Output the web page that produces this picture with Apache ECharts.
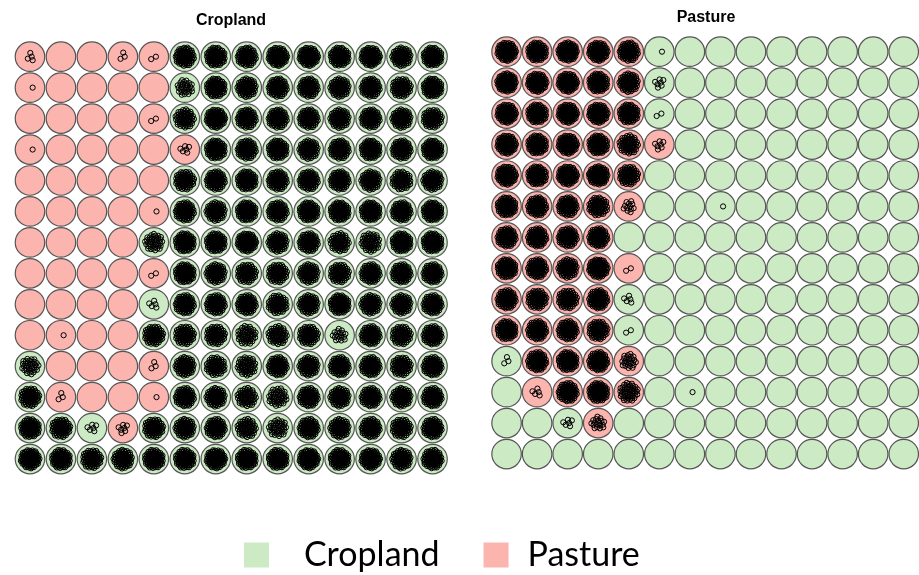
<!DOCTYPE html>
<html>
<head>
<meta charset="utf-8">
<script src="https://cdn.jsdelivr.net/npm/echarts@6/dist/echarts.min.js"></script>
<style>
  html, body { margin: 0; padding: 0; background: #fff; }
  #chart { width: 919px; height: 575px; }
</style>
</head>
<body>
<div id="chart"></div>
<script>
// Land-use classes of the 14 x 14 SOM nodes (row 0 = top row). C = Cropland, P = Pasture
const classNames = { C: 'Cropland', P: 'Pasture' };
const classColors = { C: '#CCEBC5', P: '#FBB4AE' };
const nodeClass = [
  'PPPPPCCCCCCCCC',
  'PPPPPCCCCCCCCC',
  'PPPPPCCCCCCCCC',
  'PPPPPPCCCCCCCC',
  'PPPPPCCCCCCCCC',
  'PPPPPCCCCCCCCC',
  'PPPPCCCCCCCCCC',
  'PPPPPCCCCCCCCC',
  'PPPPCCCCCCCCCC',
  'PPPPCCCCCCCCCC',
  'CPPPPCCCCCCCCC',
  'CPPPPCCCCCCCCC',
  'CCCPCCCCCCCCCC',
  'CCCCCCCCCCCCCC'
];

// Number of cropland samples mapped to each node
const cropCounts = [
  [4, 0, 0, 3, 2, 80, 85, 80, 90, 90, 85, 90, 75, 85],
  [1, 0, 0, 0, 0, 30, 85, 75, 80, 80, 75, 80, 70, 85],
  [0, 0, 0, 0, 2, 60, 90, 80, 80, 80, 75, 80, 75, 70],
  [1, 0, 0, 0, 0, 6, 85, 80, 85, 75, 80, 85, 80, 85],
  [0, 0, 0, 0, 0, 70, 80, 85, 80, 80, 80, 75, 65, 75],
  [0, 0, 0, 0, 1, 80, 75, 85, 80, 85, 85, 85, 80, 85],
  [0, 0, 0, 0, 40, 85, 85, 90, 75, 80, 60, 55, 85, 85],
  [0, 0, 0, 0, 2, 85, 75, 70, 70, 75, 70, 80, 80, 80],
  [0, 0, 0, 0, 5, 80, 80, 80, 65, 75, 85, 75, 75, 80],
  [0, 1, 0, 0, 70, 70, 70, 50, 60, 70, 18, 80, 70, 80],
  [35, 0, 0, 0, 3, 75, 65, 55, 80, 75, 80, 80, 70, 80],
  [70, 3, 0, 0, 1, 80, 75, 60, 45, 80, 75, 80, 75, 80],
  [85, 70, 6, 7, 70, 75, 80, 60, 40, 80, 75, 80, 70, 80],
  [90, 85, 70, 75, 85, 85, 90, 85, 85, 90, 85, 90, 75, 80]
];

// Number of pasture samples mapped to each node
const pastureCounts = [
  [90, 85, 95, 90, 80, 1, 0, 0, 0, 0, 0, 0, 0, 0],
  [95, 90, 90, 85, 75, 7, 0, 0, 0, 0, 0, 0, 0, 0],
  [90, 85, 90, 90, 85, 2, 0, 0, 0, 0, 0, 0, 0, 0],
  [90, 85, 90, 85, 60, 7, 0, 0, 0, 0, 0, 0, 0, 0],
  [90, 85, 90, 95, 70, 0, 0, 0, 0, 0, 0, 0, 0, 0],
  [85, 80, 80, 65, 12, 0, 0, 1, 0, 0, 0, 0, 0, 0],
  [80, 80, 80, 80, 0, 0, 0, 0, 0, 0, 0, 0, 0, 0],
  [85, 80, 75, 90, 2, 0, 0, 0, 0, 0, 0, 0, 0, 0],
  [80, 70, 70, 80, 5, 0, 0, 0, 0, 0, 0, 0, 0, 0],
  [85, 80, 80, 70, 2, 0, 0, 0, 0, 0, 0, 0, 0, 0],
  [3, 80, 85, 80, 25, 0, 0, 0, 0, 0, 0, 0, 0, 0],
  [0, 5, 80, 85, 50, 0, 1, 0, 0, 0, 0, 0, 0, 0],
  [0, 0, 6, 18, 0, 0, 0, 0, 0, 0, 0, 0, 0, 0],
  [0, 0, 0, 0, 0, 0, 0, 0, 0, 0, 0, 0, 0, 0]
];

const panelTitles = ['Cropland', 'Pasture'];
const panelCounts = [cropCounts, pastureCounts];

const N = 14;

// node background circles of one class, as [col, row]
function nodesOfClass(cls) {
  const out = [];
  nodeClass.forEach((row, r) => {
    for (let c = 0; c < N; c++) if (row[c] === cls) out.push([c, r]);
  });
  return out;
}

// mapped samples per node, as [col, row, count]
function sampleNodes(counts) {
  const out = [];
  counts.forEach((row, r) => row.forEach((n, c) => { if (n > 0) out.push([c, r, n]); }));
  return out;
}

// samples of one node drawn as small hollow circles packed round the node centre
function renderSamples(params, api) {
  const p = api.coord([api.value(0), api.value(1)]);
  const n = api.value(2);
  const R = Math.min(9.5, 2.8 + 7.5 * Math.sqrt(n / 60));
  const children = [];
  for (let i = 0; i < n; i++) {
    const rr = R * Math.sqrt((i + 0.5) / n);
    const t = i * 2.39996;
    children.push({
      type: 'circle',
      shape: { cx: p[0] + rr * Math.cos(t), cy: p[1] + rr * Math.sin(t), r: 2.6 },
      style: { fill: 'none', stroke: '#000', lineWidth: 1 }
    });
  }
  return { type: 'group', children };
}

const grids = [
  { left: 14.5, top: 41.2, width: 433.5, height: 433.3 },
  { left: 491.3, top: 36.2, width: 430.8, height: 433.3 }
];

const xAxes = grids.map((g, i) => ({
  type: 'value', gridIndex: i, min: -0.5, max: N - 0.5, show: false
}));
const yAxes = grids.map((g, i) => ({
  type: 'value', gridIndex: i, min: -0.5, max: N - 0.5, inverse: true, show: false
}));

const series = [];
grids.forEach((g, i) => {
  ['C', 'P'].forEach(cls => {
    series.push({
      type: 'scatter',
      name: classNames[cls],
      xAxisIndex: i,
      yAxisIndex: i,
      symbol: 'circle',
      symbolSize: 29.5,
      silent: true,
      itemStyle: { color: classColors[cls], borderColor: '#555', borderWidth: 1.2, opacity: 1 },
      data: nodesOfClass(cls),
      z: 1
    });
  });
  series.push({
    type: 'custom',
    name: panelTitles[i] + ' samples',
    xAxisIndex: i,
    yAxisIndex: i,
    silent: true,
    renderItem: renderSamples,
    data: sampleNodes(panelCounts[i]),
    z: 2
  });
});

const chart = echarts.init(document.getElementById('chart'), null, { renderer: 'canvas' });
chart.setOption({
  animation: false,
  backgroundColor: '#fff',
  grid: grids,
  xAxis: xAxes,
  yAxis: yAxes,
  series,
  legend: {
    data: [
      { name: 'Cropland', textStyle: { padding: [0, 0, 0, 30] } },
      { name: 'Pasture', textStyle: { padding: [0, 0, 0, 14] } }
    ],
    left: 244,
    top: 538,
    padding: 0,
    icon: 'rect',
    itemWidth: 25,
    itemHeight: 25,
    itemGap: 44,
    itemStyle: { borderWidth: 0 },
    selectedMode: false,
    textStyle: { fontFamily: 'Lato', fontSize: 34, color: '#000' }
  },
  graphic: [
    { type: 'text', x: 231, y: 21, style: { text: panelTitles[0], align: 'center', verticalAlign: 'middle', font: 'bold 16px "Liberation Sans"', fill: '#000' } },
    { type: 'text', x: 706, y: 18, style: { text: panelTitles[1], align: 'center', verticalAlign: 'middle', font: 'bold 16px "Liberation Sans"', fill: '#000' } }
  ]
});
</script>
</body>
</html>
